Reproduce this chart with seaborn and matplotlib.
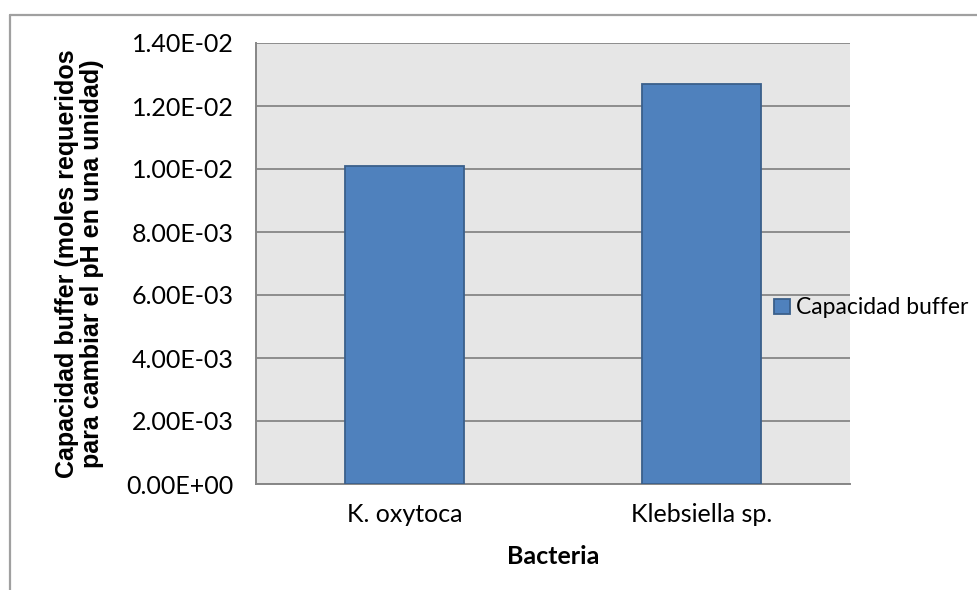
import matplotlib
matplotlib.use("Agg")
import matplotlib.pyplot as plt
import seaborn as sns
import pandas as pd
from matplotlib.lines import Line2D
from matplotlib.ticker import FuncFormatter

# Data
bacterias = ["K. oxytoca", "Klebsiella sp."]
capacidad_buffer = [0.0101, 0.0127]
serie = "Capacidad buffer"
y_ticks = [0.0, 0.002, 0.004, 0.006, 0.008, 0.010, 0.012, 0.014]

sns.set_theme(style="white")
plt.rcParams["font.family"] = ["Lato", "DejaVu Sans"]

W, H = 978, 590
FS = 18
fig = plt.figure(figsize=(W / 100, H / 100), dpi=100)
fig.patch.set_facecolor("white")
ax = fig.add_axes([256 / W, 1 - 484 / H, 594 / W, 441 / H])
ax.set_facecolor("#E6E6E6")

df = pd.DataFrame({"Bacteria": bacterias,
                   "Capacidad": capacidad_buffer,
                   "Serie": [serie] * len(bacterias)})
sns.barplot(data=df, x="Bacteria", y="Capacidad", hue="Serie",
            palette=["#4F81BD"], saturation=1, width=0.4, dodge=False,
            edgecolor="#3A5F8B", linewidth=1.3, ax=ax, zorder=3)

grid_col = "#868686"
txt_col = "#000000"
ax.set_xlim(-0.5, 1.5)
ax.set_ylim(0, 0.014)
ax.set_yticks(y_ticks)
ax.yaxis.set_major_formatter(FuncFormatter(lambda v, p: f"{v:.2E}"))
ax.grid(axis="y", color=grid_col, lw=1.3, zorder=1)
ax.grid(axis="x", visible=False)
ax.set_axisbelow(True)

# category boundaries carry the tick marks, labels sit in between
ax.set_xticks([-0.5, 0.5, 1.5])
ax.set_xticklabels([])
ax.set_xticks([0, 1], minor=True)
ax.set_xticklabels(bacterias, minor=True)
ax.tick_params(axis="x", which="minor", length=0, pad=14, labelsize=FS,
               labelcolor=txt_col)
ax.tick_params(axis="both", which="major", direction="out", length=6,
               width=1.4, color=grid_col, labelsize=FS, labelcolor=txt_col)
ax.tick_params(axis="y", pad=10)

for s in ["top", "right"]:
    ax.spines[s].set_visible(False)
for s in ["left", "bottom"]:
    ax.spines[s].set_color(grid_col)
    ax.spines[s].set_linewidth(1.4)

ax.set_xlabel("Bacteria", fontweight="bold", fontsize=FS, color=txt_col,
              labelpad=13)
ax.set_ylabel("Capacidad buffer (moles requeridos\npara cambiar el pH en una unidad)",
              fontweight="bold", fontsize=18, color=txt_col,
              family=["Liberation Sans", "DejaVu Sans"], linespacing=1.05)
ax.yaxis.set_label_coords(-0.297, 0.5)
ax.yaxis.label.set_verticalalignment("center")

sns.move_legend(ax, "center left", bbox_to_anchor=(774 / W, 1 - 308 / H),
                bbox_transform=fig.transFigure, frameon=False, title=None,
                handlelength=0.68, handleheight=0.68, handletextpad=0.3,
                borderpad=0, borderaxespad=0, fontsize=16.5)
for t in ax.get_legend().get_texts():
    t.set_color(txt_col)

# chart frame
border = "#A0A0A0"
fig.add_artist(Line2D([10 / W, 10 / W], [0, 1 - 15 / H],
                      transform=fig.transFigure, color=border, lw=1.6))
fig.add_artist(Line2D([10 / W, 1], [1 - 15 / H, 1 - 15 / H],
                      transform=fig.transFigure, color=border, lw=1.6))

fig.savefig("out.png", dpi=100)
